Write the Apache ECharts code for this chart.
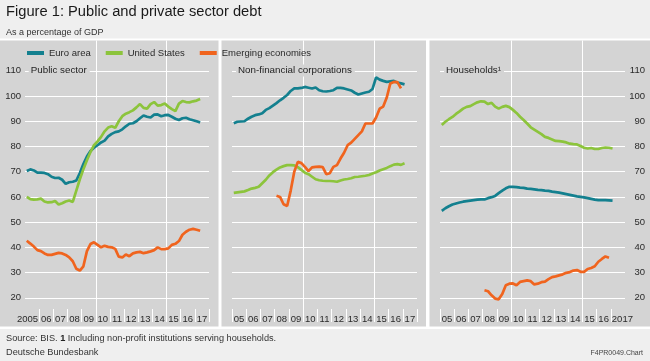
<!DOCTYPE html>
<html><head><meta charset="utf-8">
<script src="https://cdn.jsdelivr.net/npm/echarts@6/dist/echarts.min.js"></script>
<style>html,body{margin:0;padding:0;background:#efefef}#c{width:650px;height:361px}</style>
</head><body><div id="c"></div>
<script>
// ---------- data (quarterly, % of GDP) ----------
const seriesNames = ['Euro area', 'United States', 'Emerging economies'];
const panelTitles = ['Public sector', 'Non-financial corporations', 'Households¹'];
const xLabelsPublic = ['2005','06','07','08','09','10','11','12','13','14','15','16','17'];
const xLabelsNfc = ['05','06','07','08','09','10','11','12','13','14','15','16','17'];
const xLabelsHh = ['05','06','07','08','09','10','11','12','13','14','15','16','2017'];
const yMin = 20, yMax = 110, yStep = 10;
const startAll = 2005;     // first quarter: 2005 Q1
const startEmPrivate = 2008; // emerging private data from 2008 Q1

const publicEuro = [70.3,70.9,70.5,69.6,69.6,69.5,69.0,68.0,67.5,67.6,66.8,65.2,65.8,66.0,66.5,69.5,73.0,76.0,78.2,79.5,80.5,81.6,82.3,84.0,85.0,85.7,86.0,86.8,88.0,89.0,89.2,90.0,91.2,92.3,91.8,91.5,92.6,92.7,92.0,92.4,92.5,91.8,91.0,90.5,91.2,91.4,90.8,90.4,90.0,89.5];
const publicUS = [60.0,59.1,58.9,59.0,59.3,58.2,57.8,57.9,58.4,57.0,57.5,58.2,58.6,58.0,62.5,67.0,71.0,74.5,77.8,80.5,82.0,83.8,86.0,87.5,88.0,87.4,90.0,92.0,93.0,93.6,94.3,95.5,96.8,95.3,95.0,96.8,97.6,96.2,96.4,97.0,95.8,94.8,94.0,97.0,98.0,97.6,97.5,97.9,98.2,98.8];
const publicEM = [42.6,41.5,40.3,38.9,38.5,37.6,37.0,37.0,37.4,37.8,37.6,37.0,36.0,34.5,31.5,30.8,32.5,38.5,41.3,42.0,41.0,40.0,40.6,40.2,40.0,39.4,36.3,36.0,37.2,36.5,37.6,38.0,38.2,37.7,38.0,38.4,38.9,40.0,39.3,39.3,39.6,41.0,41.4,42.5,45.0,46.2,47.0,47.3,47.0,46.6];

const nfcEuro = [89.2,89.8,89.9,90.0,91.0,91.8,92.4,92.7,93.2,94.5,95.2,96.2,97.2,98.3,99.3,100.4,102.0,103.0,103.0,103.2,103.6,103.3,103.0,103.4,102.3,101.9,101.8,102.0,102.3,103.2,103.2,103.0,102.6,102.2,101.3,100.6,101.0,101.4,101.7,102.8,107.4,106.5,106.0,105.6,105.8,106.0,105.3,105.0,104.6];
const nfcUS = [61.6,61.8,62.0,62.2,62.7,63.3,63.6,64.0,65.4,66.8,68.5,69.8,70.8,71.7,72.2,72.6,72.6,72.5,71.8,70.7,69.6,69.0,68.0,67.0,66.6,66.4,66.3,66.3,66.2,66.0,66.5,66.9,67.1,67.4,67.9,68.0,68.2,68.4,68.7,69.3,69.8,70.5,71.0,71.5,72.2,72.8,73.0,72.7,73.3];
const nfcEM = [60.5,60.0,57.1,56.4,62.5,70.0,73.9,73.4,71.9,70.2,71.7,71.9,72.0,71.8,69.0,69.4,71.9,72.6,75.2,77.5,80.5,81.5,83.0,84.5,86.0,89.1,89.1,89.1,91.5,95.0,95.8,99.4,105.0,105.6,105.5,103.0];

const hhEuro = [54.5,55.5,56.3,57.0,57.4,57.8,58.1,58.3,58.5,58.7,58.9,59.0,59.0,59.5,59.9,60.4,61.5,62.5,63.4,64.0,64.0,63.9,63.7,63.6,63.3,63.2,63.0,62.8,62.7,62.5,62.4,62.1,61.9,61.7,61.4,61.1,60.8,60.5,60.2,60.0,59.8,59.5,59.2,58.9,58.7,58.7,58.7,58.6,58.5];
const hhUS = [88.5,89.8,90.8,91.7,92.9,93.9,95.0,95.7,96.0,96.8,97.5,97.9,97.8,96.8,97.3,95.8,95.0,95.7,96.1,95.6,94.5,93.3,91.8,90.5,89.1,87.6,86.7,85.8,84.9,83.8,83.4,82.8,82.2,82.1,81.9,81.6,81.1,80.9,80.8,80.2,79.5,79.2,79.4,79.0,79.0,79.4,79.6,79.5,79.2];
const hhEM = [23.0,22.6,21.0,19.7,19.4,21.5,25.0,25.6,25.7,25.0,26.3,26.6,26.9,26.6,25.3,25.6,26.2,26.4,27.4,28.2,28.5,28.9,29.3,29.9,30.2,30.8,31.0,30.3,30.3,31.4,31.8,32.5,34.3,35.4,36.4,35.9];

// ---------- style ----------
const FONT = 'Liberation Sans';
const COLORS = ['#13808f', '#8cc43c', '#f0641e'];
const PANEL = '#d4d4d4';
const TEXT = '#2a2a2a';

const panels = [
  {L: 25, W: 184, labels: xLabelsPublic, data: [publicEuro, publicUS, publicEM], starts: [startAll, startAll, startAll], yPos: 'left', tickFrom: 2006, tickTo: 2018, titleLeft: 28.7},
  {L: 232, W: 185, labels: xLabelsNfc, data: [nfcEuro, nfcUS, nfcEM], starts: [startAll, startAll, startEmPrivate], yPos: null, tickFrom: 2005, tickTo: 2018, titleLeft: 236},
  {L: 440, W: 185, labels: xLabelsHh, data: [hhEuro, hhUS, hhEM], starts: [startAll, startAll, startEmPrivate], yPos: 'right', tickFrom: 2005, tickTo: 2017, titleLeft: 444}
];
const X0 = 2005, X1 = 2018;
const Y_TOP = 70.8, Y_H = 227;         // plot band 110..20
const FRAME_TOP = 40.5, AXIS_Y = 309, TICK_H = 13;

const toPoints = (vals, start) => vals.map((v, i) => [start + (i + 0.5) / 4, v]);

const grid = [], xAxis = [], yAxis = [], series = [], titles = [];
panels.forEach((p, k) => {
  const gLines = grid.length;
  grid.push({left: p.L, top: Y_TOP, width: p.W, height: Y_H});
  const gFrame = grid.length;
  grid.push({left: p.L, top: FRAME_TOP, width: p.W, height: AXIS_Y - FRAME_TOP});
  const gTicks = grid.length;
  const span = X1 - X0;
  grid.push({left: p.L + (p.tickFrom - X0) / span * p.W, top: AXIS_Y, width: (p.tickTo - p.tickFrom) / span * p.W, height: TICK_H});

  const xData = xAxis.length;
  xAxis.push({gridIndex: gLines, type: 'value', min: X0, max: X1, show: false});
  xAxis.push({gridIndex: gFrame, type: 'value', min: X0, max: X1, interval: 5, position: 'top',
    axisLine: {show: false}, axisTick: {show: false}, axisLabel: {show: false},
    splitLine: {show: true, showMinLine: false, showMaxLine: false, lineStyle: {color: '#fff', width: 1}}});
  const last = p.labels.length - 1;
  xAxis.push({gridIndex: gFrame, type: 'category', data: p.labels, boundaryGap: true, position: 'bottom',
    axisLine: {show: false}, axisTick: {show: false}, splitLine: {show: false},
    axisLabel: {show: true, interval: 0, margin: 5, fontFamily: FONT, fontSize: 9.5, color: TEXT,
      formatter: (v, i) => (k === 0 && i === 0) ? '{l|' + v + '}' : (k === 2 && i === last) ? '{r|' + v + '}' : v,
      rich: {
        l: {fontFamily: FONT, fontSize: 9.5, color: TEXT, padding: [0, 9, 0, 0]},
        r: {fontFamily: FONT, fontSize: 9.5, color: TEXT, padding: [0, 0, 0, 9]}
      }}});
  xAxis.push({gridIndex: gTicks, type: 'value', min: p.tickFrom, max: p.tickTo, interval: 1,
    axisLine: {show: false}, axisTick: {show: false}, axisLabel: {show: false},
    splitLine: {show: true, lineStyle: {color: '#fff', width: 1}}});

  const yData = yAxis.length;
  yAxis.push({gridIndex: gLines, type: 'value', min: yMin, max: yMax, interval: yStep,
    position: p.yPos || 'left',
    axisLine: {show: false}, axisTick: {show: false},
    axisLabel: {show: !!p.yPos, fontFamily: FONT, fontSize: 9.5, color: TEXT,
      margin: p.yPos === 'right' ? 20 : 4, align: 'right'},
    splitLine: {show: true, lineStyle: {color: '#fff', width: 1}}});
  yAxis.push({gridIndex: gFrame, type: 'value', min: 0, max: 1, show: false, splitLine: {show: false}});
  yAxis.push({gridIndex: gTicks, type: 'value', min: 0, max: 1, show: false, splitLine: {show: false}});

  p.data.forEach((vals, s) => {
    series.push({
      name: seriesNames[s], type: 'line', xAxisIndex: xData, yAxisIndex: yData,
      data: toPoints(vals, p.starts[s]), showSymbol: false, symbol: 'none', clip: false,
      lineStyle: {color: COLORS[s], width: 2.7}, itemStyle: {color: COLORS[s]}, z: 3 + s
    });
  });

  titles.push({text: panelTitles[k], left: p.titleLeft, top: 64.5, padding: [0.5, 3, 0.5, 2],
    backgroundColor: PANEL, z: 8,
    textStyle: {fontFamily: FONT, fontSize: 9.8, lineHeight: 11, fontWeight: 'normal', color: '#1e1e1e'}});
});

titles.push({text: 'Figure 1: Public and private sector debt', left: 6, top: 4.5, padding: 0,
  textStyle: {fontFamily: FONT, fontSize: 14.7, fontWeight: 'normal', color: '#1a1a1a'}});
titles.push({text: 'As a percentage of GDP', left: 6, top: 28, padding: 0,
  textStyle: {fontFamily: FONT, fontSize: 9, fontWeight: 'normal', color: '#333'}});
titles.push({text: 'Source: BIS. {b|1} Including non-profit institutions serving households.', left: 6, top: 333.5, padding: 0,
  textStyle: {fontFamily: FONT, fontSize: 9.2, fontWeight: 'normal', color: '#333',
    rich: {b: {fontFamily: FONT, fontSize: 9.2, fontWeight: 'bold', color: '#222'}}}});
titles.push({text: 'Deutsche Bundesbank', left: 6, top: 347.5, padding: 0,
  textStyle: {fontFamily: FONT, fontSize: 9.2, fontWeight: 'normal', color: '#333'}});
titles.push({text: 'F4PR0049.Chart', right: 7, top: 349.5, padding: 0,
  textStyle: {fontFamily: FONT, fontSize: 7, fontWeight: 'normal', color: '#444'}});

const chart = echarts.init(document.getElementById('c'), null, {renderer: 'canvas', width: 650, height: 361});
chart.setOption({
  animation: false,
  backgroundColor: '#efefef',
  graphic: [
    {type: 'rect', silent: true, z: -20, shape: {x: 0, y: 38.5, width: 650, height: 290.5}, style: {fill: '#ffffff'}},
    {type: 'rect', silent: true, z: -19, shape: {x: 0, y: 40.5, width: 218.5, height: 286}, style: {fill: PANEL}},
    {type: 'rect', silent: true, z: -19, shape: {x: 221.5, y: 40.5, width: 204.5, height: 286}, style: {fill: PANEL}},
    {type: 'rect', silent: true, z: -19, shape: {x: 429.5, y: 40.5, width: 220.5, height: 286}, style: {fill: PANEL}}
  ],
  title: titles,
  legend: {data: seriesNames, left: 27, top: 48, padding: 0, itemWidth: 17, itemHeight: 4, itemGap: 15,
    icon: 'rect', selectedMode: false,
    textStyle: {fontFamily: FONT, fontSize: 9.5, color: TEXT}},
  grid, xAxis, yAxis, series
});
</script></body></html>
